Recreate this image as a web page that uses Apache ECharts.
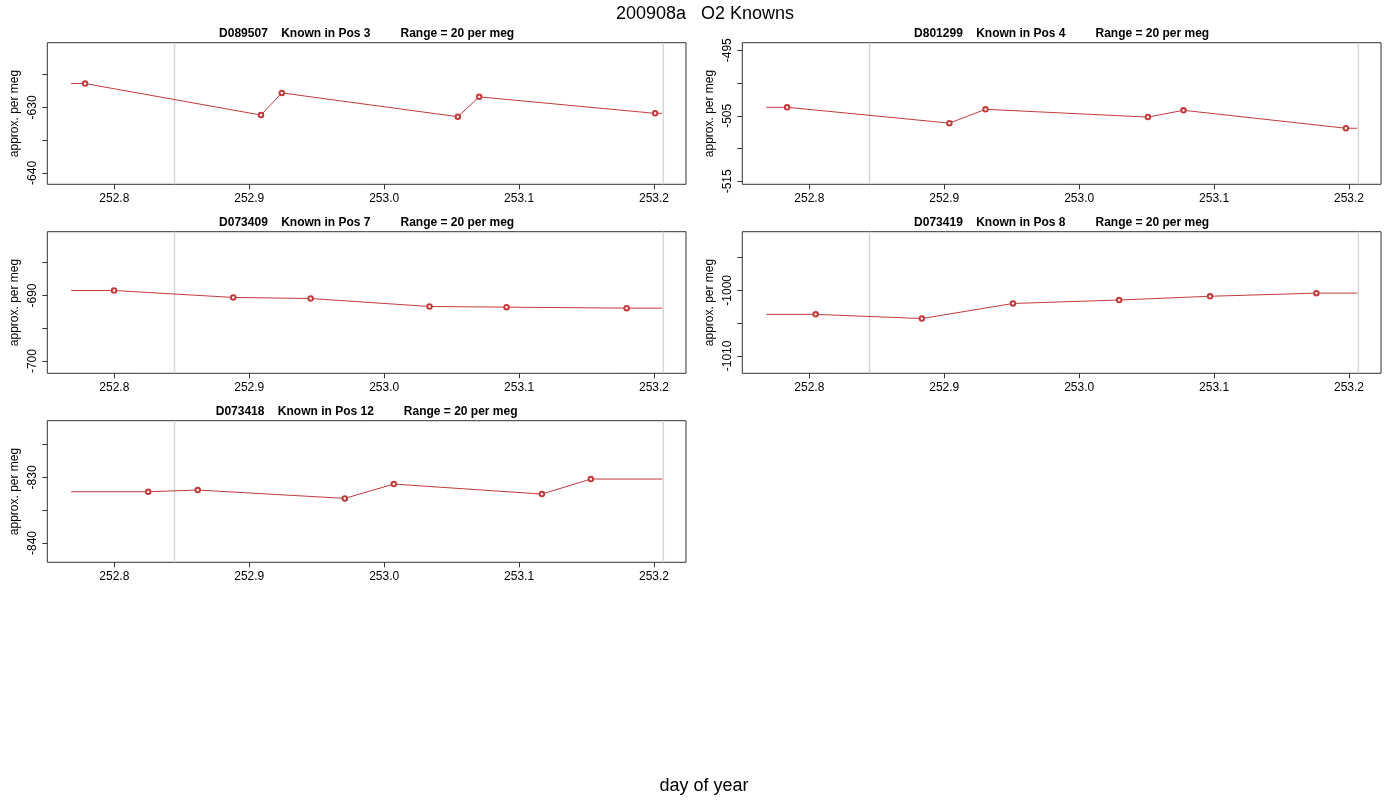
<!DOCTYPE html>
<html>
<head>
<meta charset="utf-8">
<script src="https://cdn.jsdelivr.net/npm/echarts@6/dist/echarts.min.js"></script>
<style>
  html, body { margin: 0; padding: 0; background: #fff; }
  #chart { width: 1400px; height: 800px; }
</style>
</head>
<body>
<div id="chart"></div>
<script>
// x ticks and the two grey reference lines (day of year)
const xTicks = [252.8, 252.9, 253.0, 253.1, 253.2];
const grayLines = [252.8446, 253.2069];
// the line runs flat from the start of the run to the first point and from the last point to the end
const runStart = 252.768;
const runEnd = 253.206;

const panelNames = ["D089507", "D801299", "D073409", "D073419", "D073418"];
const panelPos = [3, 4, 7, 8, 12];

// D089507, pos 3
const dayP3 = [252.7783, 252.9087, 252.9241, 253.0546, 253.0704, 253.2008];
const valP3 = [-626.36, -631.17, -627.79, -631.42, -628.39, -630.91];
// D801299, pos 4
const dayP4 = [252.7835, 252.9038, 252.9306, 253.0509, 253.0773, 253.1977];
const valP4 = [-503.7, -506.12, -504.01, -505.2, -504.16, -506.9];
// D073409, pos 7
const dayP7 = [252.7998, 252.8881, 252.9455, 253.0336, 253.0907, 253.1797];
const valP7 = [-689.24, -690.3, -690.46, -691.68, -691.78, -691.93];
// D073419, pos 8
const dayP8 = [252.8047, 252.8834, 252.9509, 253.0296, 253.097, 253.1758];
const valP8 = [-1003.66, -1004.3, -1002.0, -1001.47, -1000.9, -1000.42];
// D073418, pos 12
const dayP12 = [252.8251, 252.8618, 252.9708, 253.0071, 253.1169, 253.1532];
const valP12 = [-832.19, -831.93, -833.2, -831.02, -832.54, -830.25];

// y-axis centre of each panel (range = 20 per meg, +4% each side)
const yCentre = [-630.93, -504.65, -691.07, -1001.85, -832.15];
const yTicks = [
  [-625, -630, -635, -640],
  [-495, -500, -505, -510, -515],
  [-685, -690, -695, -700],
  [-995, -1000, -1005, -1010],
  [-825, -830, -835, -840],
];
const yLabels = [
  [-630, -640],
  [-495, -505, -515],
  [-690, -700],
  [-1000, -1010],
  [-830, -840],
];

const days = [dayP3, dayP4, dayP7, dayP8, dayP12];
const vals = [valP3, valP4, valP7, valP8, valP12];

const FONT = "Liberation Sans";
const RED = "#c43a3a";
const boxW = 638.7, boxH = 141.6;
const lefts = [47.3, 742.3, 47.3, 742.3, 47.3];
const tops = [42.7, 42.7, 231.7, 231.7, 420.7];

let grids = [], xAxes = [], yAxes = [], series = [], titles = [];

titles.push({
  text: "200908a   O2 Knowns",
  left: 705, top: 5, textAlign: "center", padding: 0,
  textStyle: { fontFamily: FONT, fontSize: 18, fontWeight: "normal", color: "#000" },
});
titles.push({
  text: "day of year",
  left: 704, top: 777, textAlign: "center", padding: 0,
  textStyle: { fontFamily: FONT, fontSize: 18, fontWeight: "normal", color: "#000" },
});

for (let i = 0; i < 5; i++) {
  const yMin = yCentre[i] - 10.8, yMax = yCentre[i] + 10.8;
  grids.push({
    left: lefts[i], top: tops[i], width: boxW, height: boxH,
    show: true, borderColor: "#333", borderWidth: 1, backgroundColor: "transparent",
    outerBoundsMode: "none",
  });
  titles.push({
    text: panelNames[i] + "    Known in Pos " + panelPos[i] + "         Range = 20 per meg",
    left: lefts[i] + boxW / 2, top: tops[i] - 15, textAlign: "center", padding: 0,
    textStyle: { fontFamily: FONT, fontSize: 12, fontWeight: "bold", color: "#000" },
  });
  xAxes.push({
    gridIndex: i, type: "value",
    min: 252.7503, max: 253.2237,
    axisLine: { show: false },
    splitLine: { show: false },
    axisTick: { show: true, length: 5, customValues: xTicks, lineStyle: { color: "#333" } },
    axisLabel: {
      customValues: xTicks, margin: 8,
      fontFamily: FONT, fontSize: 12, color: "#000",
      formatter: (v) => v.toFixed(1),
    },
  });
  yAxes.push({
    gridIndex: i, type: "value",
    min: yMin, max: yMax,
    name: "approx. per meg", nameLocation: "middle", nameGap: 27,
    nameTextStyle: { fontFamily: FONT, fontSize: 12, color: "#000" },
    axisLine: { show: false },
    splitLine: { show: false },
    axisTick: { show: true, length: 5, customValues: yTicks[i], lineStyle: { color: "#333" } },
    axisLabel: {
      customValues: yLabels[i], rotate: 90, margin: 9,
      fontFamily: FONT, fontSize: 12, color: "#000",
      formatter: (v) => String(v),
    },
  });

  // grey vertical reference lines, full height of the panel
  grayLines.forEach((g) => {
    series.push({
      type: "line",
      xAxisIndex: i, yAxisIndex: i,
      data: [[g, yMin], [g, yMax]],
      symbol: "none",
      lineStyle: { color: "#d6d6d6", width: 1.5 },
      silent: true, animation: false, z: 1,
    });
  });

  const d = days[i], v = vals[i];
  const pts = d.map((x, k) => [x, v[k]]);
  const lineData = [{ value: [runStart, v[0]], symbol: "none" }]
    .concat(pts.map((p) => ({ value: p })))
    .concat([{ value: [runEnd, v[v.length - 1]], symbol: "none" }]);

  series.push({
    type: "line",
    xAxisIndex: i, yAxisIndex: i,
    data: lineData,
    symbol: "emptyCircle", symbolSize: 4.5,
    showSymbol: true,
    itemStyle: { color: RED, borderColor: RED, borderWidth: 0.6 },
    lineStyle: { color: RED, width: 1 },
    animation: false,
    z: 3,
  });
}

const chart = echarts.init(document.getElementById("chart"), null, { renderer: "canvas" });
chart.setOption({
  backgroundColor: "#fff",
  animation: false,
  title: titles,
  grid: grids,
  xAxis: xAxes,
  yAxis: yAxes,
  series: series,
});
</script>
</body>
</html>
